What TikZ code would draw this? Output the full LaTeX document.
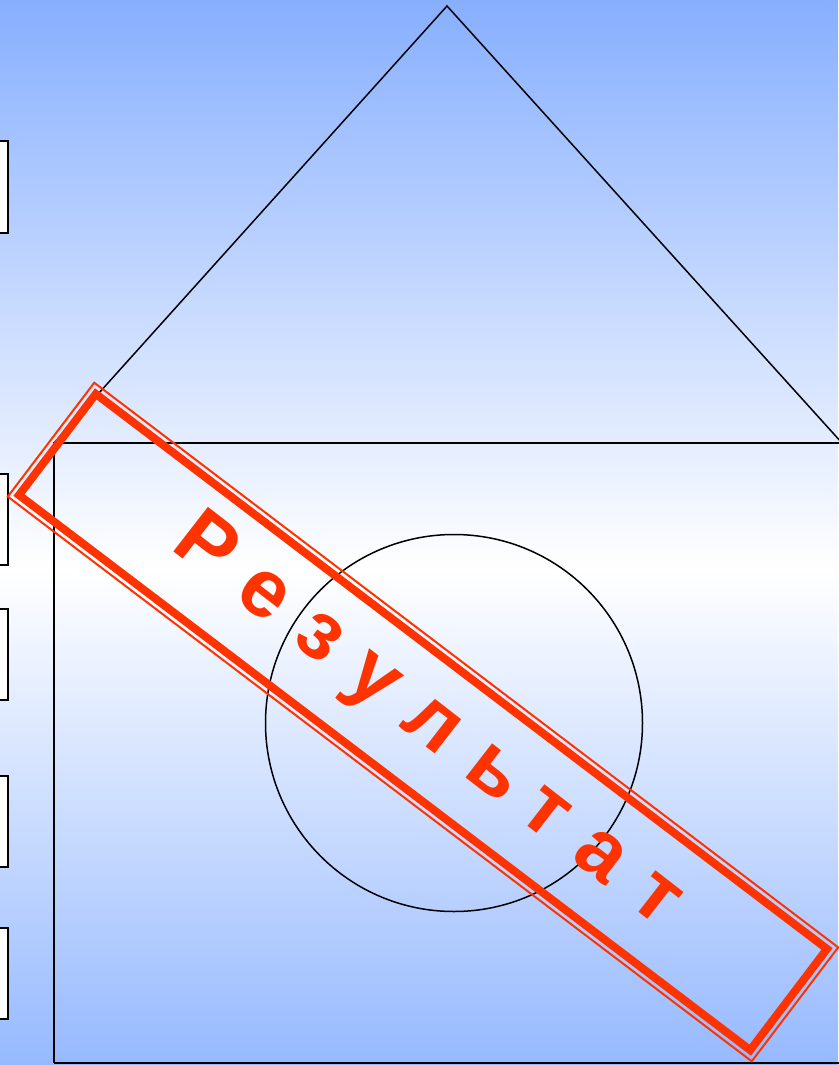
\documentclass[tikz,border=0pt]{standalone}
\usepackage{fontspec}
\setmainfont{Liberation Sans}
\newfontfamily\stampfont{Liberation Sans}[LetterSpace=33]
\definecolor{bgtop}{RGB}{135,175,255}
\definecolor{bgbot}{RGB}{150,185,255}
\definecolor{stamp}{RGB}{255,51,0}
\tikzset{
  outline/.style={draw=black, line width=1.5pt},
  sidebox/.style={draw=black, fill=white, line width=1.8pt},
  stampthin/.style={draw=stamp, line width=2pt},
  stampthick/.style={draw=stamp, line width=8pt},
}
\begin{document}
\begin{tikzpicture}[x=1pt,y=-1pt]
\useasboundingbox (0,0) rectangle (838,1065);
% background gradient
\shade[top color=bgtop, bottom color=white] (0,0) rectangle (838,570);
\shade[top color=white, bottom color=bgbot] (0,570) rectangle (838,1065);
% left boxes
\foreach \a/\b in {141/233, 474/565, 609/700, 776/867, 928/1019}
  \draw[sidebox] (-10,\a) rectangle (8,\b);
% house
\draw[outline] (54,1063) -- (54,443) -- (842,443);
\draw[outline] (54,1063) -- (842,1063);
\draw[outline] (54,443) -- (447,6) -- (842,443);
\draw[outline] (454,723) circle (188.5);
% stamp
\begin{scope}[shift={(423,722)}, rotate=-37.2]
  \draw[stampthin] (-467,-71.5) rectangle (467,71.5);
  \draw[stampthick, line join=miter] (-459,-63.5) rectangle (459,63.5);
  \node[anchor=base, text=stamp, inner sep=0pt, rotate=-37.8, font=\stampfont\bfseries\fontsize{82}{82}\selectfont] (label) at (3,18) {Результат};
\end{scope}
\end{tikzpicture}
\end{document}
